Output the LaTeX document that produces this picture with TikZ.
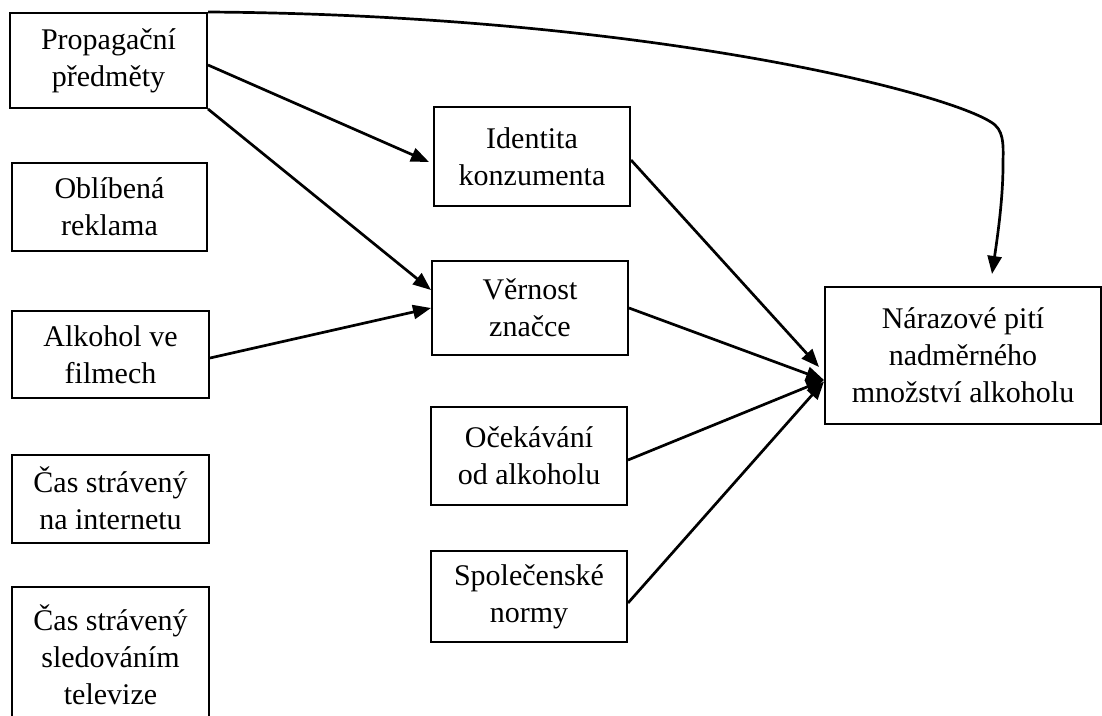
\documentclass[tikz,border=0pt]{standalone}
\usepackage{fontspec}
\setmainfont{Liberation Serif}
\usetikzlibrary{arrows.meta,calc}
\begin{document}
\begin{tikzpicture}[x=1pt,y=-1pt,
  box/.style={draw,line width=2pt,rectangle,inner sep=0pt,align=center,
    font=\fontsize{30}{37}\selectfont},
  txt/.style={inner sep=0pt,align=center,font=\fontsize{30}{37}\selectfont},
  conn/.style={line width=2.7pt,-{Triangle[length=18pt,width=14pt]}}]
\useasboundingbox (0,0) rectangle (1102,715);
% left column
\node[box,minimum width=197,minimum height=95] (prop) at (108.5,60.5) {Propagační\\předměty};
\node[box,minimum width=195,minimum height=88] (obl) at (109.5,207) {Oblíbená\\reklama};
\node[box,minimum width=197,minimum height=87] (alk) at (110.5,354.5) {Alkohol ve\\filmech};
\node[box,minimum width=197,minimum height=88] (int) at (110.5,498.5) {Čas strávený\\na internetu};
\node[txt,minimum width=197] (tv) at (110.5,655) {Čas strávený\\sledováním\\televize};
\draw[line width=2pt] (12,730) |- (209,587) -- (209,730);
% middle column
\node[box,minimum width=196,minimum height=99] (ide) at (532,156.5) {Identita\\konzumenta};
\node[box,minimum width=196,minimum height=94] (ver) at (530,308) {Věrnost\\značce};
\node[box,minimum width=196,minimum height=98] (oce) at (529,456) {Očekávání\\od alkoholu};
\node[box,minimum width=196,minimum height=91] (spo) at (529,596.5) {Společenské\\normy};
% target
\node[box,minimum width=276,minimum height=137] (nar) at (963,355.5) {Nárazové pití\\nadměrného\\množství alkoholu};
% connectors
\draw[conn] ($(prop.east)+(0,4.5)$) -- ($(ide.west)+(-4,5.5)$);
\draw[conn] (prop.south east) -- ($(ver.west)+(0,-18)$);
\draw[conn] ($(alk.east)+(0,3.5)$) -- (ver.west);
\draw[conn] ($(ide.east)+(0,3.5)$) -- ($(nar.west)+(-5,11.5)$);
\draw[conn] (ver.east) -- ($(nar.west)+(0,24.5)$);
\draw[conn] ($(oce.east)+(0,4)$) -- ($(nar.west)+(0,24.5)$);
\draw[conn] ($(spo.east)+(0,6.5)$) -- ($(nar.west)+(0,26)$);
\draw[conn] (prop.north east) .. controls (650,15) and (960,95) .. (995,125)
  .. controls (1005,134) and (1003,150) .. (1003,165)
  .. controls (1003,200) and (997,240) .. ($(nar.north)+(29,-12)$);
\end{tikzpicture}
\end{document}
